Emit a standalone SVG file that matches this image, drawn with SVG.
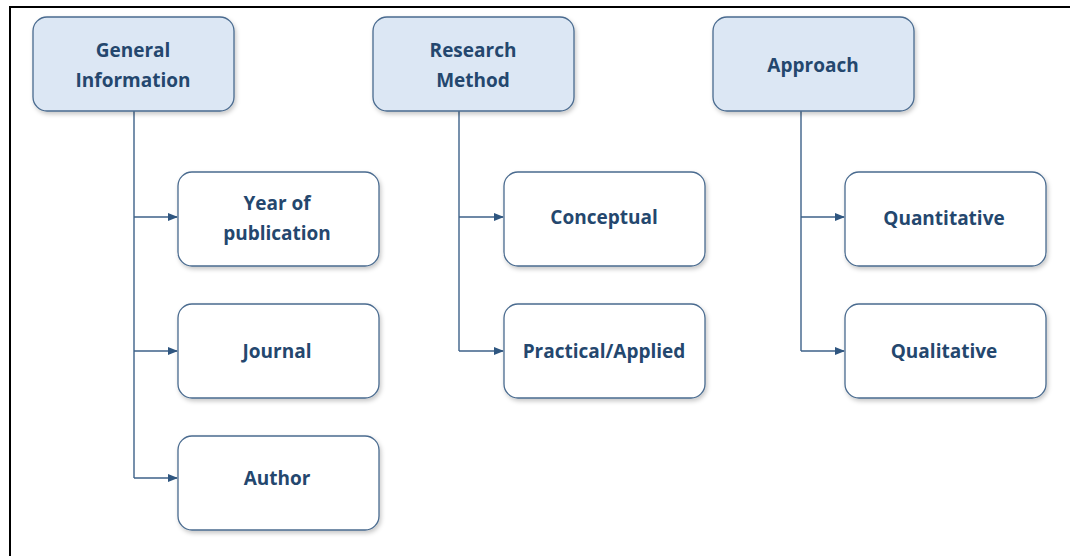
<svg xmlns="http://www.w3.org/2000/svg" width="1070" height="556" viewBox="0 0 1070 556">
<defs>
<filter id="sh" x="-10%" y="-10%" width="125%" height="130%">
<feDropShadow dx="1.5" dy="2.5" stdDeviation="2" flood-color="#000" flood-opacity="0.22"/>
</filter>
<marker id="ah" markerWidth="10" markerHeight="8" refX="9" refY="4" orient="auto" markerUnits="userSpaceOnUse">
<path d="M0,0 L10,4 L0,8 Z" fill="#2f5680"/>
</marker>
<style>
.head rect{fill:#dce7f4;stroke:#4a6b8f;stroke-width:1.3;filter:url(#sh)}
.leaf rect{fill:#ffffff;stroke:#4a6b8f;stroke-width:1.3;filter:url(#sh)}
text{font-family:"Open Sans","Liberation Sans",sans-serif;font-weight:bold;font-size:19px;fill:#24476e;text-anchor:middle}
.conn path{fill:none;stroke:#3d6189;stroke-width:1.4}
</style>
</defs>
<rect width="1070" height="556" fill="#ffffff"/>
<path d="M10,556 L10,7 L1070,7" fill="none" stroke="#000" stroke-width="2"/>
<g class="conn">
<path d="M134,111 V478"/>
<path d="M134,217 H177" marker-end="url(#ah)"/>
<path d="M134,351 H177" marker-end="url(#ah)"/>
<path d="M134,478 H177" marker-end="url(#ah)"/>
<path d="M459,111 V351"/>
<path d="M459,217 H503" marker-end="url(#ah)"/>
<path d="M459,351 H503" marker-end="url(#ah)"/>
<path d="M801,111 V351"/>
<path d="M801,217 H844" marker-end="url(#ah)"/>
<path d="M801,351 H844" marker-end="url(#ah)"/>
</g>
<g id="general" class="head"><rect x="33" y="17" width="201" height="94" rx="14"/><text x="133" y="57">General</text><text x="133" y="87">Information</text></g>
<g id="research" class="head"><rect x="373" y="17" width="201" height="94" rx="14"/><text x="473" y="57">Research</text><text x="473" y="87">Method</text></g>
<g id="approach" class="head"><rect x="713" y="17" width="201" height="94" rx="14"/><text x="813" y="72">Approach</text></g>
<g id="year" class="leaf"><rect x="178" y="172" width="201" height="94" rx="14"/><text x="277" y="210">Year of</text><text x="277" y="240">publication</text></g>
<g id="journal" class="leaf"><rect x="178" y="304" width="201" height="94" rx="14"/><text x="277" y="358">Journal</text></g>
<g id="author" class="leaf"><rect x="178" y="436" width="201" height="94" rx="14"/><text x="277" y="485">Author</text></g>
<g id="conceptual" class="leaf"><rect x="504" y="172" width="201" height="94" rx="14"/><text x="604" y="224">Conceptual</text></g>
<g id="practical" class="leaf"><rect x="504" y="304" width="201" height="94" rx="14"/><text x="604" y="358">Practical/Applied</text></g>
<g id="quantitative" class="leaf"><rect x="845" y="172" width="201" height="94" rx="14"/><text x="944" y="225">Quantitative</text></g>
<g id="qualitative" class="leaf"><rect x="845" y="304" width="201" height="94" rx="14"/><text x="944" y="358">Qualitative</text></g>
</svg>
